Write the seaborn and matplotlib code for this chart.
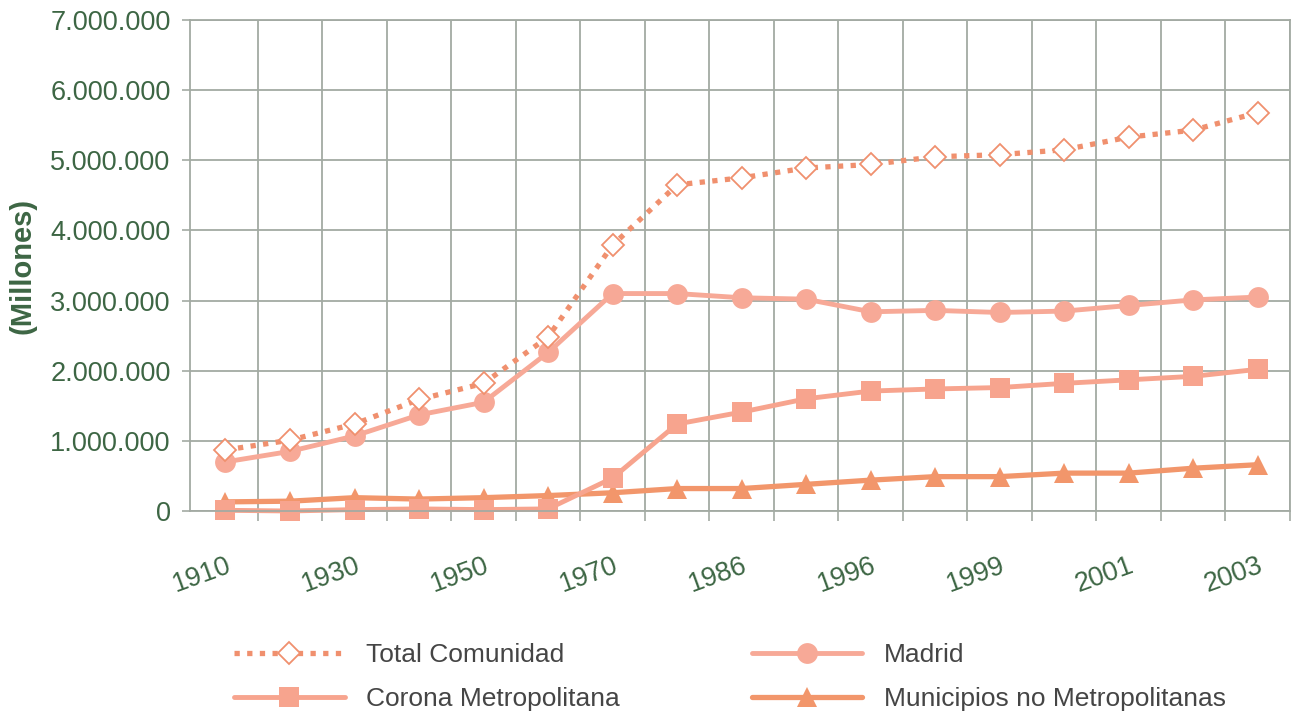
import matplotlib
matplotlib.use("Agg")
import matplotlib.pyplot as plt
import matplotlib.ticker as mticker
import seaborn as sns
import pandas as pd
import numpy as np

years = ["1910", "1920", "1930", "1940", "1950", "1960", "1970", "1981", "1986",
         "1991", "1996", "1998", "1999", "2000", "2001", "2002", "2003"]
tick_labels = ["1910", "1930", "1950", "1970", "1986", "1996", "1999", "2001", "2003"]

total_comunidad = [870000, 1010000, 1240000, 1590000, 1820000, 2480000, 3790000, 4650000, 4750000,
                   4890000, 4940000, 5050000, 5080000, 5150000, 5330000, 5430000, 5680000]
madrid = [700000, 850000, 1070000, 1370000, 1550000, 2260000, 3100000, 3100000, 3040000,
          3020000, 2840000, 2860000, 2830000, 2850000, 2930000, 3010000, 3050000]
corona = [10000, 0, 20000, 30000, 20000, 30000, 470000, 1240000, 1410000,
          1600000, 1710000, 1740000, 1760000, 1820000, 1870000, 1920000, 2020000]
municipios = [130000, 140000, 190000, 170000, 190000, 220000, 260000, 320000, 320000,
              380000, 440000, 490000, 490000, 540000, 540000, 610000, 660000]

series_names = ["Total Comunidad", "Madrid", "Corona Metropolitana", "Municipios no Metropolitanas"]

sns.set_theme(style="white")
plt.rcParams['font.family'] = ['Liberation Sans', 'DejaVu Sans']

pos = np.arange(len(years))
df = pd.DataFrame({"pos": pos, "year": years,
                   series_names[0]: total_comunidad, series_names[1]: madrid,
                   series_names[2]: corona, series_names[3]: municipios})

fig = plt.figure(figsize=(12.98, 7.13), dpi=100)
ax = fig.add_axes([190/1298, 1-511/713, 1100/1298, 491/713])

text_green = "#3d6644"
grid_col = "#a3aaa3"

styles = {
    "Total Comunidad": dict(color="#f0906e", marker="D", markersize=11.5, markerfacecolor="white",
                            markeredgecolor="#f0906e", markeredgewidth=1.3, linestyle=(0, (1, 1.4)),
                            linewidth=3.8, dash_capstyle="butt"),
    "Madrid": dict(color="#f7a997", marker="o", markersize=15, markeredgewidth=0,
                   linestyle="-", linewidth=3.5),
    "Corona Metropolitana": dict(color="#f7a48e", marker="s", markersize=14, markeredgewidth=0,
                                 linestyle="-", linewidth=3.5),
    "Municipios no Metropolitanas": dict(color="#f2966b", marker="^", markersize=15, markeredgewidth=0,
                                         linestyle="-", linewidth=3.8),
}

handles = {}
for name in ["Municipios no Metropolitanas", "Corona Metropolitana", "Madrid", "Total Comunidad"]:
    st = styles[name]
    sns.lineplot(data=df, x="pos", y=name, ax=ax, color=st["color"], label=name, legend=False)
    line = ax.lines[-1]
    line.set_marker(st["marker"])
    line.set_markersize(st["markersize"])
    line.set_markeredgewidth(st["markeredgewidth"])
    line.set_linestyle(st["linestyle"])
    line.set_linewidth(st["linewidth"])
    line.set_markerfacecolor(st.get("markerfacecolor", st["color"]))
    line.set_markeredgecolor(st.get("markeredgecolor", st["color"]))
    if "dash_capstyle" in st:
        line.set_dash_capstyle(st["dash_capstyle"])
    line.set_clip_on(False)
    handles[name] = line

ax.set_xlim(-0.55, 16.5)
ax.set_ylim(0, 7000000)
ax.set_xlabel("")
ax.set_ylabel("(Millones)", fontsize=21, fontweight="bold", color=text_green, labelpad=10)

ax.yaxis.set_major_locator(mticker.MultipleLocator(1000000))
ax.yaxis.set_major_formatter(mticker.FuncFormatter(lambda v, p: f"{int(v):,}".replace(",", ".")))
ax.tick_params(axis="y", labelsize=19.5, labelcolor=text_green, length=6, color=grid_col, width=1.2, pad=8, left=True)

ax.set_xticks(pos[::2])
ax.set_xticklabels(tick_labels, rotation=20, ha="right", va="top", rotation_mode="anchor")
ax.tick_params(axis="x", which="major", labelsize=19.5, labelcolor=text_green, length=0, pad=30)
ax.set_xticks(np.arange(-0.5, 16.6, 1.0)[1:], minor=True)
ax.tick_params(axis="x", which="minor", length=7, color=grid_col, width=1.2, bottom=True)

ax.grid(True, which="minor", axis="x", color=grid_col, linewidth=1.3)
ax.grid(True, which="major", axis="y", color=grid_col, linewidth=1.3)
ax.grid(False, which="major", axis="x")
for sp in ax.spines.values():
    sp.set_color(grid_col)
    sp.set_linewidth(1.3)
ax.set_axisbelow(True)

order = ["Total Comunidad", "Corona Metropolitana", "Madrid", "Municipios no Metropolitanas"]
leg = fig.legend([handles[n] for n in order], order, loc="center left",
                 bbox_to_anchor=(234/1298, 1-677/713), ncol=2, frameon=False,
                 fontsize=19, handlelength=4.2, handletextpad=0.8, columnspacing=5.0,
                 labelspacing=0.75, borderpad=0, borderaxespad=0)
for t in leg.get_texts():
    t.set_color("#454545")

fig.savefig("out.png", dpi=100, facecolor="white")
